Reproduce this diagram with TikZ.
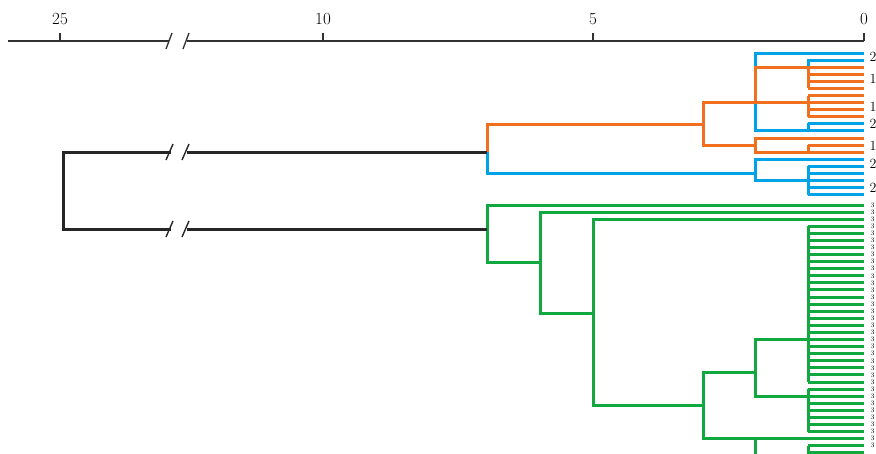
\documentclass[tikz,border=0pt]{standalone}
\definecolor{cblue}{RGB}{0,162,232}
\definecolor{corange}{RGB}{240,112,32}
\definecolor{cgreen}{RGB}{18,168,64}
\definecolor{caxis}{RGB}{50,50,50}
\begin{document}
\begin{tikzpicture}[x=1pt,y=-1pt, line width=3pt, line join=miter]
\useasboundingbox (0,0) rectangle (876,453);

\draw [line width=1.3pt, caxis](8,41)--(169,41) (187,41)--(864,41);
\draw [line width=1.3pt, caxis](166,49)--(172,33) (183,49)--(189,33);
\foreach \x/\t in {60/25,323/10,593/5,864/0}
{
   \draw[line width=1.3pt, caxis] (\x,41)--(\x,33);
   \node (tick\t) at (\x,19){\fontsize{17}{17}\selectfont \t};
}

% upper group
\draw [cblue](864,53)-|(755,130.2)--(808,130.2);
\draw [cblue](864,60.1)-|(808,67.2);
\foreach \i in {10,11}
   \draw[cblue] (808,{53+7.08*\i})--(864,{53+7.08*\i});
\draw [cblue](808,123.1)--(808,130.2);
\draw [corange](864,67.2)-|(755,102.6)--(864,102.6);
\foreach \i in {2,...,9,13}
   \draw[corange] (808,{53+7.08*\i})--(864,{53+7.08*\i});
\draw [corange](808,67.2)--(808,88.4) (808,95.5)--(808,116.7);
\draw [corange](864,138)-|(755,152.2)--(864,152.2) (808,145.1)--(808,152.2);
\draw [corange](755,145.1)-|(703,102.6)--(755,102.6);
\draw [corange](703,124)-|(487,152);
\draw [cblue](864,159.3)-|(755,180.4)--(808,180.4);
\foreach \i in {16,...,20}
   \draw[cblue] (808,{53+7.08*\i})--(864,{53+7.08*\i});
\draw [cblue](808,166.3)--(808,194.6);
\draw [cblue](755,173.5)-|(487,152);

% lower group
\draw [cgreen](864,205)-|(487,262)--(540,262);
\draw [cgreen](864,212.1)-|(540,313)--(593,313);
\draw [cgreen](864,219.2)-|(593,405)--(703,405);
\draw [cgreen](755,372)-|(703,438.6)--(755,438.6);
\draw [cgreen](808,339.5)-|(755,396.2)--(808,396.2);
\foreach \j in {3,...,35}
   \draw[cgreen] (808,{205+7.08*\j})--(864,{205+7.08*\j});
\draw [cgreen](808,226.2)--(808,382) (808,389.1)--(808,431.6);
\draw [cgreen](864,438.6)-|(755,470) (808,445.7)--(808,470);

\draw [line width=3pt, black!85](487,152)--(187,152) (171,152)--(63,152)--(63,229)--(171,229) (187,229)--(487,229);
\draw [line width=1.4pt, black!85](166,160)--(173,144) (182,160)--(189,144);
\draw [line width=1.4pt, black!85](166,237)--(173,221) (182,237)--(189,221);

\foreach \y/\t [count=\k] in {57/2,79/1,107/1,123.5/2,145.5/1,163.5/2,188/2}
   \node[anchor=west, inner sep=0pt] (lab\k) at (868,\y){\fontsize{14}{14}\selectfont \t};
\foreach \j in {0,...,34}
   \node[anchor=west, inner sep=0pt] (leaf\j) at (869,{205+7.08*\j}){\fontsize{7}{7}\selectfont 3};

\end{tikzpicture}
\end{document}
